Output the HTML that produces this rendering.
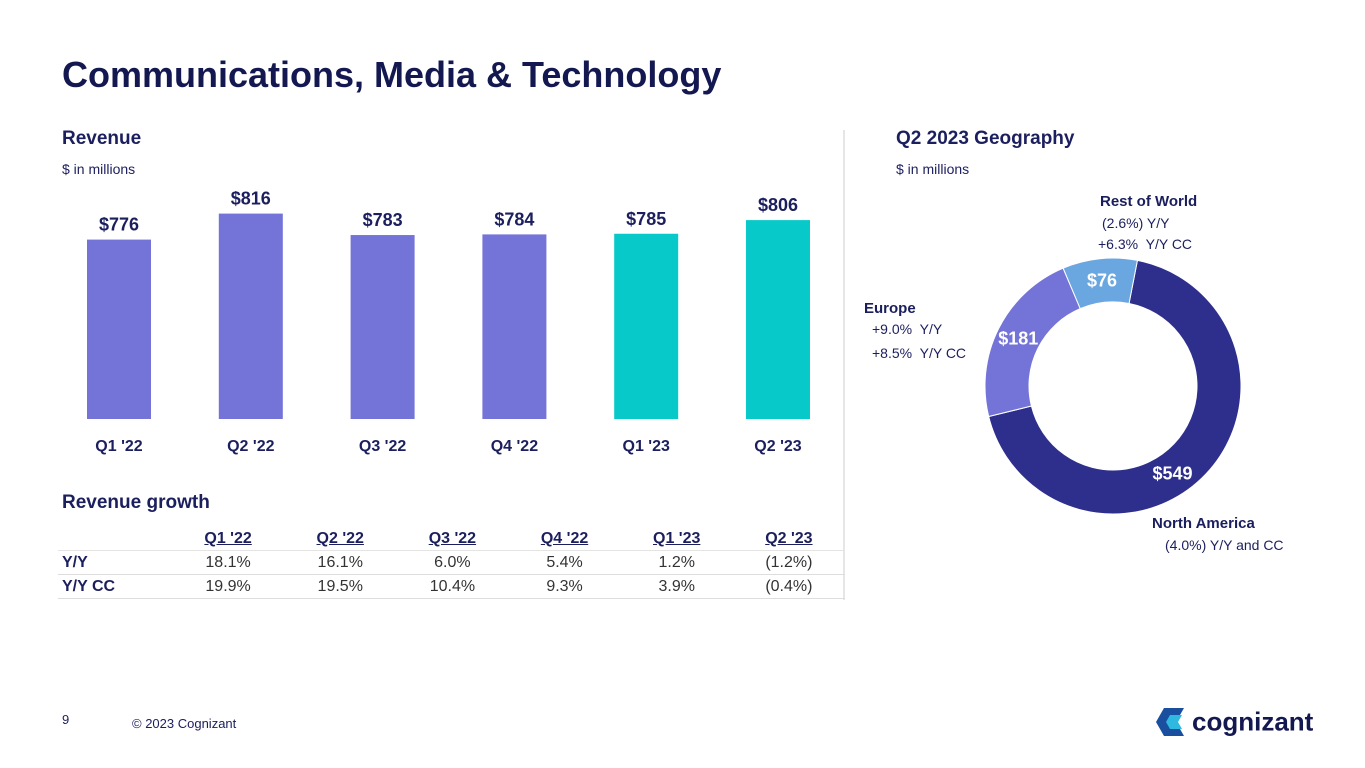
<!DOCTYPE html>
<html><head><meta charset="utf-8">
<style>
body{margin:0;width:1365px;height:768px;background:#fff;font-family:"Liberation Sans",sans-serif;color:#1a1e5c;position:relative;overflow:hidden}
.a{position:absolute;white-space:nowrap}
.h2{font-size:19px;font-weight:bold;color:#1c1f5e}
.sm{font-size:14px;color:#1c1f5e}
table{position:absolute;left:58px;top:527px;width:787px;border-collapse:collapse;font-size:16px}
td{padding:0;height:23px;text-align:center;color:#333}
td:first-child{text-align:left;font-weight:bold;color:#1c1f5e;width:110px;padding-left:4px}
tr.hd td{text-decoration:underline;font-weight:bold;color:#1c1f5e;border-bottom:1px solid #e4e4e4}
tr.r td{border-bottom:1px solid #ddd}
</style></head><body>
<div class="a" style="left:62px;top:54px;font-size:36px;font-weight:bold;color:#141850">Communications, Media &amp; Technology</div>
<div class="a h2" style="left:62px;top:128px">Revenue</div>
<div class="a sm" style="left:62px;top:161px">$ in millions</div>
<div class="a" style="left:843px;top:130px;width:2px;height:470px;background:#e6e6e6"></div>
<svg class="a" id="bars" style="left:0;top:0" width="860" height="470"></svg>
<div class="a h2" style="left:62px;top:492px">Revenue growth</div>
<table>
<tr class="hd"><td></td><td>Q1 '22</td><td>Q2 '22</td><td>Q3 '22</td><td>Q4 '22</td><td>Q1 '23</td><td>Q2 '23</td></tr>
<tr class="r"><td>Y/Y</td><td>18.1%</td><td>16.1%</td><td>6.0%</td><td>5.4%</td><td>1.2%</td><td>(1.2%)</td></tr>
<tr class="r"><td>Y/Y CC</td><td>19.9%</td><td>19.5%</td><td>10.4%</td><td>9.3%</td><td>3.9%</td><td>(0.4%)</td></tr>
</table>
<div class="a h2" style="left:896px;top:128px">Q2 2023 Geography</div>
<div class="a sm" style="left:896px;top:161px">$ in millions</div>
<svg class="a" id="donut" style="left:0;top:0" width="1365" height="768"></svg>
<div class="a" style="left:1100px;top:193px;font-size:15px;font-weight:bold">Rest of World</div>
<div class="a sm" style="left:1102px;top:215px">(2.6%) Y/Y</div>
<div class="a sm" style="left:1098px;top:236px">+6.3%&nbsp; Y/Y CC</div>
<div class="a" style="left:864px;top:300px;font-size:15px;font-weight:bold">Europe</div>
<div class="a sm" style="left:872px;top:321px">+9.0%&nbsp; Y/Y</div>
<div class="a sm" style="left:872px;top:345px">+8.5%&nbsp; Y/Y CC</div>
<div class="a" style="left:1152px;top:515px;font-size:15px;font-weight:bold">North America</div>
<div class="a sm" style="left:1165px;top:537px">(4.0%) Y/Y and CC</div>
<div class="a" style="left:62px;top:712px;font-size:13px">9</div>
<div class="a" style="left:132px;top:716px;font-size:13px">© 2023 Cognizant</div>
<div class="a" style="left:1156px;top:706px">
<svg width="36" height="32" style="vertical-align:middle"><polygon points="8,2 28,2 20,16 28,30 8,30 0,16" fill="#1a4fa0"/><polygon points="14,9 26,9 22,16 26,23 14,23 10,16" fill="#2fb8e0"/></svg><span style="font-size:26px;font-weight:bold;color:#141850;vertical-align:middle">cognizant</span></div>
<script>
const categories=["Q1 '22","Q2 '22","Q3 '22","Q4 '22","Q1 '23","Q2 '23"];
const revenue=[776,816,783,784,785,806];
const barColors=["#7373d8","#7373d8","#7373d8","#7373d8","#08c9c9","#08c9c9"];
const geoNames=["North America","Europe","Rest of World"];
const geoValues=[549,181,76];
const geoColors=["#2e2f8c","#7373d8","#6aa6e0"];
const NS="http://www.w3.org/2000/svg";
function mk(p,t,a){const e=document.createElementNS(NS,t);for(const k in a)e.setAttribute(k,a[k]);p.appendChild(e);return e;}
const bs=document.getElementById('bars');
const base=419,yMin=500,scale=0.65;
const y=v=>base-(v-yMin)*scale;
const x=i=>119+i*131.8;
categories.forEach((c,i)=>{
 const r=mk(bs,'rect',{x:x(i)-32,y:y(revenue[i]),width:64,height:base-y(revenue[i]),fill:barColors[i]});
 
 
 const t=mk(bs,'text',{x:x(i),y:y(revenue[i])-9,'text-anchor':'middle','font-size':18,'font-weight':'bold',fill:'#1c1f5e','font-family':'Liberation Sans'});
 t.textContent='$'+revenue[i];
 
 
 const l=mk(bs,'text',{x:x(i),y:451,'text-anchor':'middle','font-size':16,'font-weight':'bold',fill:'#1c1f5e','font-family':'Liberation Sans'});
 l.textContent=c;
 
 
});
const ds=document.getElementById('donut');
const cx=1113,cy=386,R=128,r0=84;
const tot=geoValues.reduce((a,b)=>a+b,0);
let ang=11;
const pt=(a,rr)=>[cx+rr*Math.sin(a*Math.PI/180),cy-rr*Math.cos(a*Math.PI/180)];
geoValues.forEach((v,i)=>{
 const sweep=v/tot*360,a1=ang,a2=ang+sweep,lg=sweep>180?1:0;
 const p1=pt(a1,R),p2=pt(a2,R),p3=pt(a2,r0),p4=pt(a1,r0);
 const d=`M${p1} A${R},${R} 0 ${lg} 1 ${p2} L${p3} A${r0},${r0} 0 ${lg} 0 ${p4}Z`;
 const s=mk(ds,'path',{d:d,fill:geoColors[i],stroke:'#fff','stroke-width':1});
 
 
 const mid=i==0?a1+sweep*0.55:(a1+a2)/2;
 const lp=pt(mid,(R+r0)/2);
 const t=mk(ds,'text',{x:lp[0],y:lp[1]+6,'text-anchor':'middle','font-size':18,'font-weight':'bold',fill:'#fff','font-family':'Liberation Sans'});
 t.textContent='$'+v;
 
 
 ang=a2;
});
</script>
</body></html>
